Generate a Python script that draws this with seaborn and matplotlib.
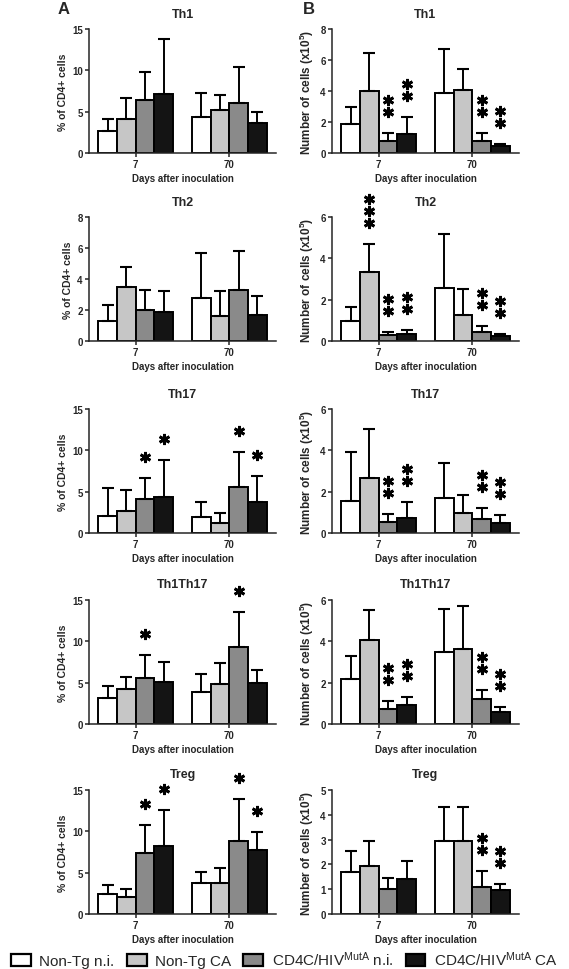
import matplotlib
matplotlib.use('Agg')
import numpy as np
import pandas as pd
import seaborn as sns
import matplotlib.pyplot as plt
from matplotlib.patches import Patch
from matplotlib.transforms import offset_copy

days = ['7', '70']
groups = ['Non-Tg n.i.', 'Non-Tg CA', 'CD4C/HIV$^{MutA}$ n.i.', 'CD4C/HIV$^{MutA}$ CA']
colors = ['#ffffff', '#c6c6c6', '#8a8a8a', '#141414']

# column A: % of CD4+ cells  (rows: day 7, day 70; cols: groups)
th1_pct_mean = [[2.7, 4.1, 6.4, 7.1], [4.3, 5.2, 6.1, 3.6]]
th1_pct_top = [[4.1, 6.7, 9.8, 13.8], [7.3, 7.0, 10.4, 5.0]]
th1_pct_stars = [[0, 0, 0, 0], [0, 0, 0, 0]]

th2_pct_mean = [[1.3, 3.5, 2.0, 1.9], [2.8, 1.6, 3.3, 1.7]]
th2_pct_top = [[2.3, 4.8, 3.3, 3.2], [5.7, 3.2, 5.8, 2.9]]
th2_pct_stars = [[0, 0, 0, 0], [0, 0, 0, 0]]

th17_pct_mean = [[2.1, 2.7, 4.1, 4.3], [1.9, 1.2, 5.6, 3.7]]
th17_pct_top = [[5.4, 5.2, 6.7, 8.8], [3.7, 2.4, 9.8, 6.9]]
th17_pct_stars = [[0, 0, 1, 1], [0, 0, 1, 1]]

th1th17_pct_mean = [[3.1, 4.2, 5.6, 5.1], [3.9, 4.8, 9.3, 4.9]]
th1th17_pct_top = [[4.6, 5.7, 8.4, 7.5], [6.1, 7.4, 13.5, 6.5]]
th1th17_pct_stars = [[0, 0, 1, 0], [0, 0, 1, 0]]

treg_pct_mean = [[2.4, 2.0, 7.4, 8.2], [3.8, 3.8, 8.8, 7.7]]
treg_pct_top = [[3.5, 3.0, 10.8, 12.6], [5.1, 5.6, 13.9, 9.9]]
treg_pct_stars = [[0, 0, 1, 1], [0, 0, 1, 1]]

# column B: number of cells (x10^5)
th1_num_mean = [[1.9, 4.0, 0.8, 1.2], [3.9, 4.05, 0.75, 0.45]]
th1_num_top = [[2.95, 6.45, 1.3, 2.35], [6.7, 5.4, 1.3, 0.6]]
th1_num_stars = [[0, 0, 2, 2], [0, 0, 2, 2]]

th2_num_mean = [[0.95, 3.35, 0.28, 0.35], [2.55, 1.25, 0.42, 0.25]]
th2_num_top = [[1.65, 4.7, 0.45, 0.55], [5.2, 2.5, 0.72, 0.35]]
th2_num_stars = [[0, 3, 2, 2], [0, 0, 2, 2]]

th17_num_mean = [[1.55, 2.65, 0.55, 0.75], [1.7, 0.95, 0.7, 0.5]]
th17_num_top = [[3.9, 5.05, 0.9, 1.5], [3.4, 1.85, 1.2, 0.85]]
th17_num_stars = [[0, 0, 2, 2], [0, 0, 2, 2]]

th1th17_num_mean = [[2.2, 4.05, 0.75, 0.9], [3.5, 3.65, 1.2, 0.6]]
th1th17_num_top = [[3.3, 5.5, 1.1, 1.3], [5.55, 5.7, 1.65, 0.8]]
th1th17_num_stars = [[0, 0, 2, 2], [0, 0, 2, 2]]

treg_num_mean = [[1.7, 1.95, 1.0, 1.4], [2.95, 2.95, 1.1, 0.95]]
treg_num_top = [[2.55, 2.95, 1.45, 2.15], [4.3, 4.3, 1.75, 1.2]]
treg_num_stars = [[0, 0, 0, 0], [0, 0, 2, 2]]

titles = ['Th1', 'Th2', 'Th17', 'Th1Th17', 'Treg']
pct_ticks = [[0, 5, 10, 15], [0, 2, 4, 6, 8], [0, 5, 10, 15], [0, 5, 10, 15], [0, 5, 10, 15]]
num_ticks = [[0, 2, 4, 6, 8], [0, 2, 4, 6], [0, 2, 4, 6], [0, 2, 4, 6], [0, 1, 2, 3, 4, 5]]

sns.set_style('ticks')
plt.rcParams['font.family'] = ['Liberation Sans', 'DejaVu Sans']
plt.rcParams['mathtext.default'] = 'regular'
plt.rcParams['axes.linewidth'] = 1.1

W, H = 569, 970
fig = plt.figure(figsize=(W / 100, H / 100), dpi=100)


def draw_panel(ax, title, mean, top, stars, ticks, ylabel, ylabel_size):
    rows = []
    for d, day in enumerate(days):
        for g, grp in enumerate(groups):
            rows.append({'day': day, 'group': grp, 'value': mean[d][g],
                         'top': top[d][g], 'stars': stars[d][g]})
    df = pd.DataFrame(rows)
    sns.barplot(data=df, x='day', y='value', hue='group', order=days, hue_order=groups,
                palette=colors, saturation=1, edgecolor='black', linewidth=1.4,
                errorbar=None, legend=False, width=0.8, ax=ax)
    bar_sets = list(ax.containers)
    for g, cont in enumerate(bar_sets):
        sub = df[df['group'] == groups[g]].set_index('day').loc[days]
        xs = [p.get_x() + p.get_width() / 2 for p in cont]
        ax.errorbar(xs, sub['value'], yerr=[np.zeros(len(xs)), sub['top'] - sub['value']],
                    fmt='none', ecolor='black', elinewidth=1.4, capsize=4.2, capthick=1.5,
                    zorder=3)
        for x, t, n in zip(xs, sub['top'], sub['stars']):
            for k in range(n):
                tr = offset_copy(ax.transData, fig=fig, x=0, y=21 + 12 * k, units='dots')
                ax.plot([x], [t], marker=(6, 2, 0), ms=8.0, mew=2.0, color='black',
                        transform=tr, clip_on=False)
    ax.set_xlim(-0.5, 1.5)
    ax.set_ylim(ticks[0], ticks[-1])
    ax.set_yticks(ticks)
    ax.set_title(title, fontsize=9, fontweight='bold', pad=9)
    ax.set_xlabel('Days after inoculation', fontsize=7, fontweight='bold', labelpad=3)
    ax.set_ylabel(ylabel, fontsize=ylabel_size, fontweight='bold', labelpad=3)
    ax.tick_params(length=3, width=1.1, pad=1.5, labelsize=7)
    for lab in ax.get_xticklabels() + ax.get_yticklabels():
        lab.set_fontweight('bold')
    sns.despine(ax=ax)


row_tops = [30, 218, 410, 601, 791]
row_h = 124

pct_sets = [(th1_pct_mean, th1_pct_top, th1_pct_stars),
            (th2_pct_mean, th2_pct_top, th2_pct_stars),
            (th17_pct_mean, th17_pct_top, th17_pct_stars),
            (th1th17_pct_mean, th1th17_pct_top, th1th17_pct_stars),
            (treg_pct_mean, treg_pct_top, treg_pct_stars)]
num_sets = [(th1_num_mean, th1_num_top, th1_num_stars),
            (th2_num_mean, th2_num_top, th2_num_stars),
            (th17_num_mean, th17_num_top, th17_num_stars),
            (th1th17_num_mean, th1th17_num_top, th1th17_num_stars),
            (treg_num_mean, treg_num_top, treg_num_stars)]

for i in range(5):
    top_px = row_tops[i]
    axl = fig.add_axes([89 / W, 1 - (top_px + row_h) / H, 187 / W, row_h / H])
    draw_panel(axl, titles[i], *pct_sets[i], pct_ticks[i], '% of CD4+ cells', 7.5)
    axr = fig.add_axes([332 / W, 1 - (top_px + row_h) / H, 187 / W, row_h / H])
    draw_panel(axr, titles[i], *num_sets[i], num_ticks[i], 'Number of cells (x10$^{5}$)', 8.5)

fig.text(64 / W, 1 - 10 / H, 'A', ha='center', va='center', fontsize=12, fontweight='bold')
fig.text(309 / W, 1 - 10 / H, 'B', ha='center', va='center', fontsize=12, fontweight='bold')

handles = [Patch(facecolor=c, edgecolor='black', linewidth=1.6) for c in colors]
fig.legend(handles, groups, loc='center', bbox_to_anchor=(0.5, 1 - 960 / H), ncol=4,
           frameon=False, fontsize=11, handlelength=1.3, handleheight=0.8,
           handletextpad=0.55, columnspacing=0.8, borderpad=0, borderaxespad=0)

fig.savefig('out.png', dpi=100)
